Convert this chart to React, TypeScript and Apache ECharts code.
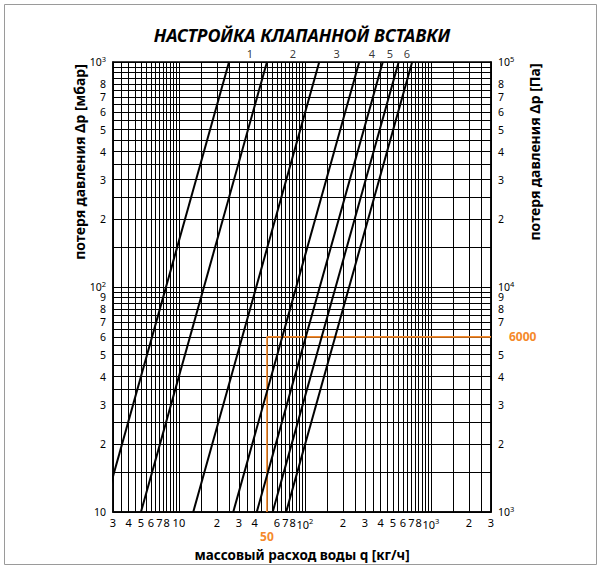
import React, { useEffect, useRef } from "react";
import * as echarts from "echarts";

// ---- data ----
// flow q [kg/h] of each valve-insert curve at Δp = 10 mbar and at Δp = 1000 mbar
const curveFlowAt10 = [2.5, 5, 13, 27, 41.5, 55.5, 71];
const curveFlowAt1000 = [25, 50, 130, 270, 415, 555, 710];
const curveDpLow = 10;
const curveDpHigh = 1000;

// setting numbers printed above the plot, and the flow at which each sits
const settingLabels = ["1", "2", "3", "4", "5", "6"];
const settingLabelFlow = [36.6, 80.5, 179, 340, 473, 646];

// orange example reading
const exampleFlow = [50, 50, 3000];
const exampleDp = [10, 60, 60];

// tick labels
const xLabelValues = [3, 4, 5, 6, 7, 8, 10, 20, 30, 40, 50, 60, 70, 80, 100, 200, 300, 400, 500, 600, 700, 800, 1000, 2000, 3000];
const yLeftLabelValues = [10, 20, 30, 40, 50, 60, 70, 80, 90, 100, 200, 300, 400, 500, 600, 700, 800, 900, 1000];
const yRightLabelValues = [1000, 2000, 3000, 4000, 5000, 6000, 7000, 8000, 9000, 10000, 20000, 30000, 40000, 50000, 60000, 70000, 80000, 90000, 100000];

// grid line ranges: [from, to, step]
const xGridRanges = [[3, 10, 0.5], [10, 100, 5], [100, 1000, 50], [1000, 3000, 500]];
const yGridRanges = [[10, 100, 5], [100, 1000, 50]];

const ORANGE = "#f5892a";
const FONT = "'Noto Sans', 'Open Sans', sans-serif";

function buildGrid(ranges: number[][]): number[] {
  const out: number[] = [];
  ranges.forEach(([a, b, s]) => {
    const n = Math.round((b - a) / s);
    for (let i = 0; i <= n; i++) {
      const v = Math.round((a + i * s) * 1000) / 1000;
      if (out.indexOf(v) < 0) out.push(v);
    }
  });
  return out;
}

// keep the value at the axis maximum inside the (log-rounded) extent
function insideMax(vals: number[], max: number): number[] {
  return vals.map((v) => (v >= max ? max * (1 - 1e-7) : v));
}

function leadDigit(v: number): string {
  const p = Math.pow(10, Math.floor(Math.log10(v) + 1e-5));
  return String(Math.round(v / p));
}

function isPow10(v: number): number {
  const l = Math.log10(v);
  return Math.abs(l - Math.round(l)) < 1e-5 ? Math.round(l) : -1;
}

const supRich = {
  s: { fontSize: 7.5, padding: [0, 0, 7, 0], color: "#000", fontFamily: FONT },
  o: { fontSize: 12, fontWeight: "bold", color: ORANGE, padding: [13, 0, 0, 0], fontFamily: FONT },
  r: { fontSize: 12, fontWeight: "bold", color: ORANGE, padding: [0, 0, 0, 11], fontFamily: FONT },
};

export default function App() {
  const ref = useRef<HTMLDivElement>(null);

  useEffect(() => {
    if (!ref.current) return;
    const chart = echarts.init(ref.current, undefined, { renderer: "svg" });

    const xGrid = buildGrid(xGridRanges);
    const yGrid = buildGrid(yGridRanges);

    const series: any[] = [];
    curveFlowAt10.forEach((q, i) => {
      series.push({
        type: "line",
        data: [[q, curveDpLow], [curveFlowAt1000[i], curveDpHigh]],
        showSymbol: false,
        symbol: "none",
        clip: true,
        lineStyle: { color: "#000", width: 2 },
        silent: true,
        z: 5,
      });
    });
    series.push({
      type: "line",
      data: exampleFlow.map((q, i) => [q, exampleDp[i]]),
      showSymbol: false,
      symbol: "none",
      lineStyle: { color: ORANGE, width: 1.6 },
      silent: true,
      z: 4,
    });
    series.push({
      type: "scatter",
      data: settingLabelFlow.map((q, i) => [q, curveDpHigh, settingLabels[i]]),
      symbolSize: 1,
      itemStyle: { color: "rgba(0,0,0,0)" },
      clip: false,
      silent: true,
      label: {
        show: true,
        position: "top",
        distance: 3,
        formatter: (p: any) => p.value[2],
        color: "#000",
        fontSize: 11,
        fontFamily: FONT,
      },
    });

    const yLabelStyle = {
      color: "#000",
      fontSize: 10.5,
      lineHeight: 10,
      fontFamily: FONT,
      rich: supRich,
      showMinLabel: true,
      showMaxLabel: true,
      hideOverlap: false,
    };

    const option: any = {
      animation: false,
      backgroundColor: "#fff",
      textStyle: { fontFamily: FONT },
      grid: {
        left: 113,
        top: 62,
        width: 378,
        height: 450,
        show: true,
        borderColor: "#000",
        borderWidth: 1.5,
        backgroundColor: "transparent",
      },
      xAxis: {
        type: "log",
        logBase: 10,
        min: 3,
        max: 3000,
        axisLine: { show: true, lineStyle: { color: "#000", width: 1.5 } },
        axisTick: { show: false, customValues: xGrid },
        splitLine: { show: true, lineStyle: { color: "#000", width: 1 } },
        minorSplitLine: { show: false },
        axisLabel: {
          customValues: insideMax(xLabelValues, 3000),
          showMinLabel: true,
          showMaxLabel: true,
          hideOverlap: false,
          margin: 5,
          color: "#000",
          fontSize: 11,
          fontFamily: FONT,
          rich: supRich,
          formatter: (v: number) => {
            if (Math.abs(v - 50) < 1e-3) return "{o|50}";
            const p = isPow10(v);
            if (p === 1) return "10";
            if (p > 1) return "10{s|" + p + "}";
            return leadDigit(v);
          },
        },
      },
      yAxis: [
        {
          type: "log",
          logBase: 10,
          min: 10,
          max: 1000,
          position: "left",
          axisLine: { show: true, lineStyle: { color: "#000", width: 1.5 } },
          axisTick: { show: false, customValues: insideMax(yGrid, 1000) },
          splitLine: { show: true, lineStyle: { color: "#000", width: 1 } },
          axisLabel: {
            ...yLabelStyle,
            customValues: insideMax(yLeftLabelValues, 1000),
            margin: 7,
            formatter: (v: number) => {
              const p = isPow10(v);
              if (p === 1) return "10";
              if (p > 1) return "10{s|" + p + "}";
              return leadDigit(v);
            },
          },
        },
        {
          type: "log",
          logBase: 10,
          min: 1000,
          max: 100000,
          position: "right",
          axisLine: { show: true, lineStyle: { color: "#000", width: 1.5 } },
          axisTick: { show: false },
          splitLine: { show: false },
          axisLabel: {
            ...yLabelStyle,
            customValues: insideMax(yRightLabelValues, 100000),
            margin: 7,
            formatter: (v: number) => {
              if (Math.abs(v - 6000) < 1e-3) return "{r|6000}";
              const p = isPow10(v);
              if (p > 0) return "10{s|" + p + "}";
              return leadDigit(v);
            },
          },
        },
      ],
      graphic: [
        {
          type: "rect",
          shape: { x: 4.5, y: 4.5, width: 592, height: 560 },
          style: { fill: "none", stroke: "#9a9a9a", lineWidth: 1 },
          silent: true,
        },
        {
          type: "text",
          x: 302,
          y: 35,
          style: {
            text: "НАСТРОЙКА КЛАПАННОЙ ВСТАВКИ",
            font: "italic bold 18px " + FONT,
            fill: "#000",
            align: "center",
            verticalAlign: "middle",
            textAlign: "center",
            textVerticalAlign: "middle",
          },
        },
        {
          type: "text",
          x: 302,
          y: 555,
          style: {
            text: "массовый расход воды q [кг/ч]",
            font: "bold 13.5px " + FONT,
            fill: "#000",
            align: "center",
            verticalAlign: "middle",
            textAlign: "center",
            textVerticalAlign: "middle",
          },
        },
        {
          type: "text",
          x: 79,
          y: 162,
          rotation: Math.PI / 2,
          style: {
            text: "потеря давления Δp [мбар]",
            font: "bold 14px " + FONT,
            fill: "#000",
            align: "center",
            verticalAlign: "middle",
            textAlign: "center",
            textVerticalAlign: "middle",
          },
        },
        {
          type: "text",
          x: 534,
          y: 152,
          rotation: Math.PI / 2,
          style: {
            text: "потеря давления Δp [Па]",
            font: "bold 14px " + FONT,
            fill: "#000",
            align: "center",
            verticalAlign: "middle",
            textAlign: "center",
            textVerticalAlign: "middle",
          },
        },
      ],
      series,
    };

    chart.setOption(option);
    return () => chart.dispose();
  }, []);

  return (
    <div
      ref={ref}
      style={{ position: "fixed", left: 0, top: 0, width: 601, height: 567, background: "#fff" }}
    />
  );
}
